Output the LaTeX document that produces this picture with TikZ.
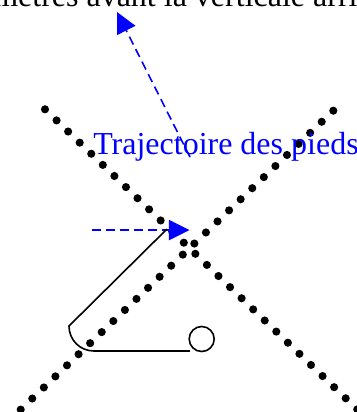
\documentclass[tikz,border=0pt]{standalone}
\usepackage{fontspec}
\setmainfont{Liberation Serif}
\usetikzlibrary{arrows.meta}
\tikzset{
  x=0.75pt,y=-0.75pt,
  dotmark/.style={fill=black,draw=none},
  bluedash/.style={draw=blue,line width=1.2pt,dash pattern=on 6.6pt off 3.9pt,-{Triangle[length=15.5pt,width=15.5pt,fill=blue,line width=0pt]}},
  limb/.style={draw=black,line width=1.2pt},
  txt/.style={inner sep=0pt,anchor=base west,font=\fontsize{24pt}{26pt}\selectfont}
}
\begin{document}
\begin{tikzpicture}
\useasboundingbox (0,0) rectangle (357,412);
\clip (0,0) rectangle (357,412);
\foreach \i in {0,...,27}{
  \fill[dotmark] ({45+11.565*\i},{109.3+11.115*\i}) circle (3.05pt);
  \fill[dotmark] ({333.3-11.578*\i},{110.7+11.07*\i}) circle (3.05pt);
}
\coordinate (t1) at (190,157);
\coordinate (t2) at (117,12);
\coordinate (h1) at (92,230);
\coordinate (h2) at (189.5,230);
\draw[bluedash] (t1) -- (t2);
\draw[bluedash] (h1) -- (h2);
\node[txt,text=blue] (traj) at (93,154) {Trajectoire des pieds};
\node[txt] (top) at (-7,6) {mètres avant la verticale arrière};
\draw[limb] (167,229) -- (69,326) .. controls (69,340) and (80,351) .. (94,351) -- (190,351);
\node[circle,draw=black,line width=1.2pt,minimum size=18.75pt,inner sep=0pt] (c) at (201.7,339) {};
\end{tikzpicture}
\end{document}
